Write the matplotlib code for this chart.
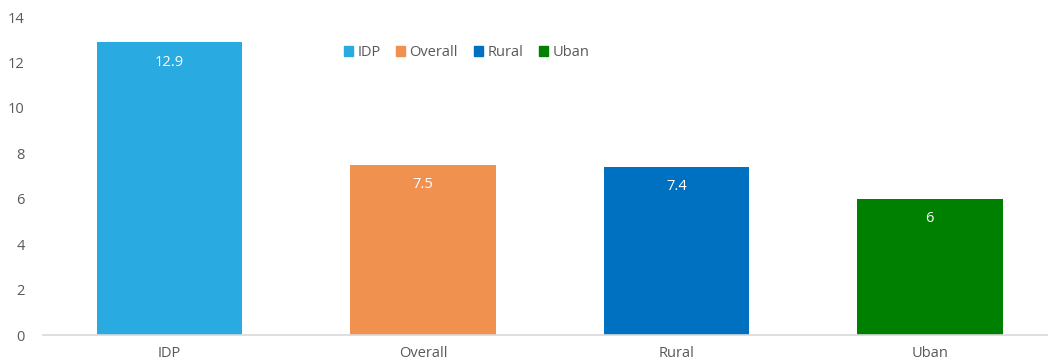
import numpy as np
import matplotlib.pyplot as plt
from matplotlib.patches import Patch

plt.rcParams['font.family'] = ['Open Sans', 'DejaVu Sans']

categories = ['IDP', 'Overall', 'Rural', 'Uban']
values = [12.9, 7.5, 7.4, 6]
colors = ['#29abe2', '#f09150', '#0070c0', '#008000']
yticks = [0, 2, 4, 6, 8, 10, 12, 14]

fig = plt.figure(figsize=(10.48, 3.63), dpi=100)
ax = fig.add_axes([0.041, 0.077, 0.967, 0.876])

x = np.arange(len(categories))
bars = ax.bar(x, values, width=0.575, color=colors)

# value labels sit just inside the top of each bar
for b, v in zip(bars, values):
    ax.annotate(f'{v:g}', (b.get_x() + b.get_width() / 2, v),
                xytext=(0, -20), textcoords='offset pixels',
                ha='center', va='center', color='white', fontsize=10.5)

ax.set_xlim(-0.5, 3.5)
ax.set_ylim(0, 14)
ax.set_yticks(yticks)
ax.set_xticks(x)
ax.set_xticklabels(categories)
ax.tick_params(length=0, labelsize=10.5, colors='#595959')
ax.tick_params(axis='y', pad=13)
ax.tick_params(axis='x', pad=8)
for s in ['top', 'right', 'left']:
    ax.spines[s].set_visible(False)
ax.spines['bottom'].set_color('#d9d9d9')
ax.spines['bottom'].set_linewidth(1.2)

handles = [Patch(color=c, label=l) for c, l in zip(colors, categories)]
leg = ax.legend(handles=handles, ncol=4, loc='center', bbox_to_anchor=(0.418, 0.888),
                frameon=False, fontsize=10.5, handlelength=0.6, handleheight=0.6,
                handletextpad=0.3, columnspacing=1.1)
for t in leg.get_texts():
    t.set_color('#595959')

fig.savefig('out.png', dpi=100)
